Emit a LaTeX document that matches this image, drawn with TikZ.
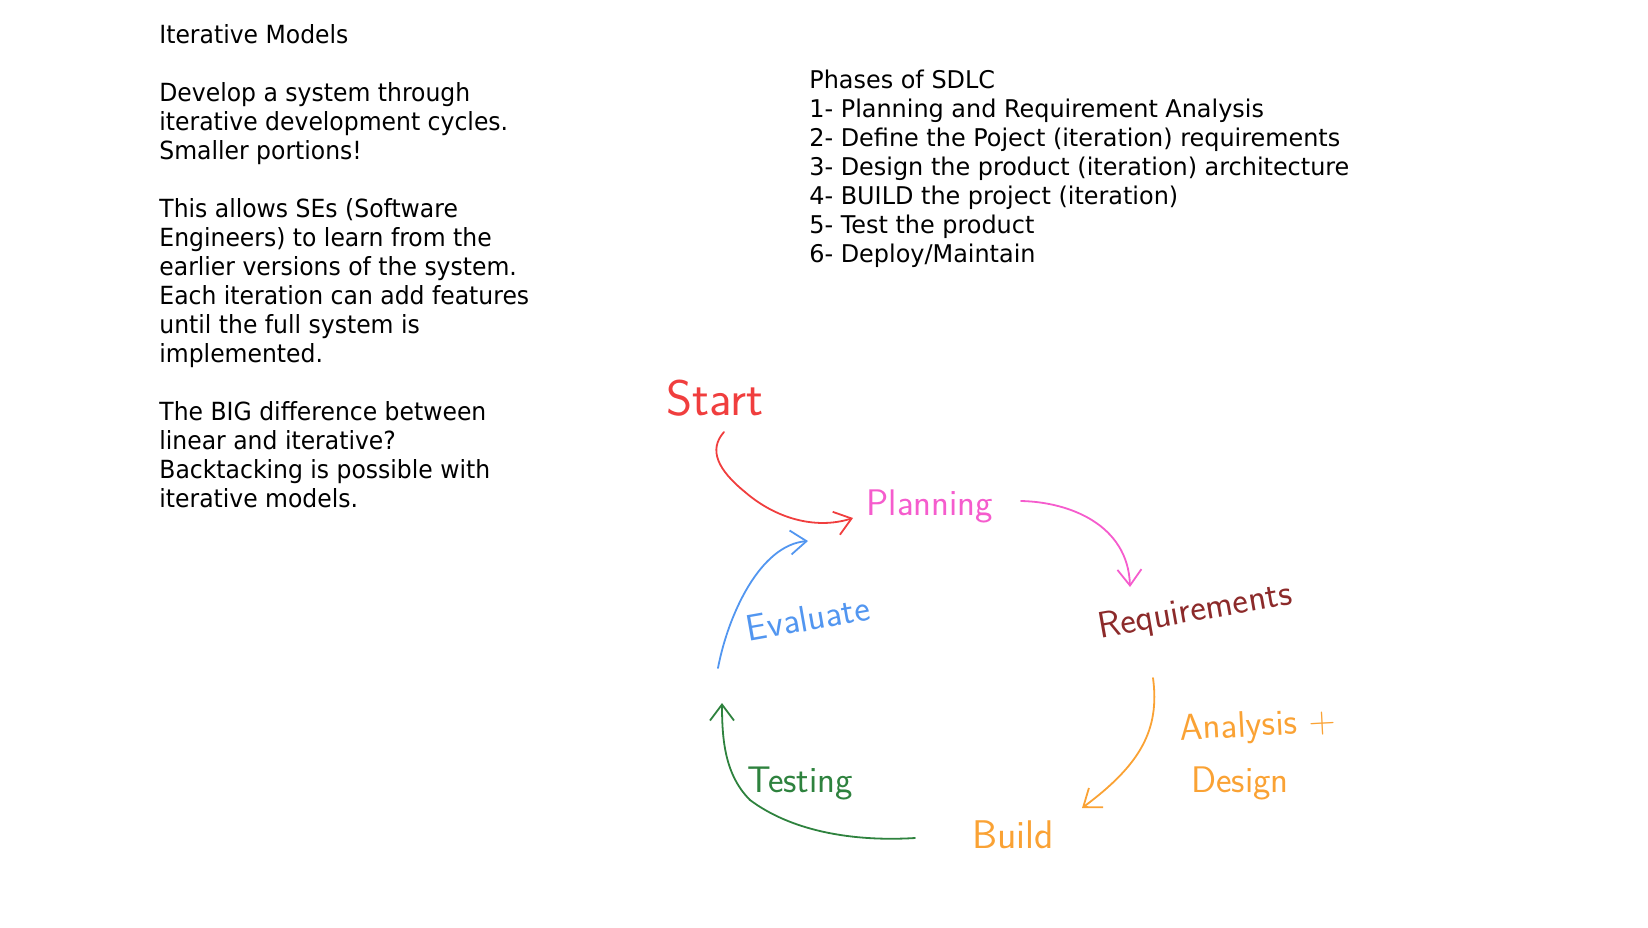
\documentclass[tikz,border=0pt]{standalone}
\usepackage{fontspec}
\setmainfont{DejaVu Sans}
\newfontfamily\notefont[FakeStretch=0.94]{DejaVu Sans}
\newfontfamily\phasefont[FakeStretch=0.98]{DejaVu Sans}
\usetikzlibrary{arrows.meta}

\definecolor{penred}{RGB}{240,62,62}
\definecolor{penpink}{RGB}{245,92,205}
\definecolor{penbrown}{RGB}{140,42,42}
\definecolor{penorange}{RGB}{250,162,52}
\definecolor{pengreen}{RGB}{46,130,62}
\definecolor{penblue}{RGB}{82,150,240}

\tikzset{
  notes/.style={anchor=base west, align=left, inner sep=0pt, font=\notefont\fontsize{12.5}{14.5}\selectfont},
  phases/.style={anchor=base west, align=left, inner sep=0pt, font=\phasefont\fontsize{12.2}{14.5}\selectfont},
  hand/.style={inner sep=0pt, font=\sffamily\fontsize{18.5}{20}\selectfont},
  pen/.style={line width=0.9pt, line cap=round, -{Straight Barb[length=8pt,width=12pt]}}
}

\begin{document}
\begin{tikzpicture}[x=0.5pt, y=-0.5pt]
    \useasboundingbox (0,0) rectangle (1648,927);

    % notes on the left (anchored at the last baseline)
    \node[notes] (notes) at (159,507) {Iterative Models\\[14.5pt]
      Develop a system through\\iterative development cycles.\\Smaller portions!\\[14.5pt]
      This allows SEs (Software\\Engineers) to learn from the\\earlier versions of the system.\\
      Each iteration can add features\\until the full system is\\implemented.\\[14.5pt]
      The BIG difference between\\linear and iterative?\\Backtacking is possible with\\iterative models.};

    % phases list
    \node[phases] (phases) at (809,262) {Phases of SDLC\\
      1- Planning and Requirement Analysis\\
      2- Define the Poject (iteration) requirements\\
      3- Design the product (iteration) architecture\\
      4- BUILD the project (iteration)\\
      5- Test the product\\
      6- Deploy/Maintain};

    % the cycle
    \node[hand, penred, font=\sffamily\fontsize{25}{26}\selectfont] (start) at (715,398) {Start};
    \node[hand, penpink] (plan) at (930,506) {Planning};
    \node[hand, penbrown, rotate=10] (req) at (1195,612) {Requirements};
    \node[hand, penorange, rotate=3] (ana) at (1258,727) {Analysis +};
    \node[hand, penorange] (des) at (1240,783) {Design};
    \node[hand, penorange, font=\sffamily\fontsize{20}{22}\selectfont] (build) at (1013,835) {Build};
    \node[hand, pengreen] (test) at (800,783) {Testing};
    \node[hand, penblue, rotate=10] (eval) at (808,618) {Evaluate};

    \coordinate (startout) at (724,432);
    \coordinate (planin) at (853,518);
    \coordinate (planout) at (1021,501);
    \coordinate (reqin) at (1130,587);
    \coordinate (reqout) at (1153,678);
    \coordinate (buildin) at (1082,808);
    \coordinate (buildout) at (915,838);
    \coordinate (testend) at (722,703);
    \coordinate (evalout) at (718,668);
    \coordinate (evalend) at (808,541);

    \draw[pen, penred] (startout) .. controls (708,450) and (718,470) .. (745,492)
      .. controls (775,518) and (815,530) .. (planin);
    \draw[pen, penpink] (planout) .. controls (1070,502) and (1128,525) .. (reqin);
    \draw[pen, penorange] (reqout) .. controls (1160,730) and (1140,765) .. (buildin);
    \draw[pen, pengreen] (buildout) .. controls (850,842) and (790,830) .. (750,800)
      .. controls (725,775) and (722,740) .. (testend);
    \draw[pen, penblue] (evalout) .. controls (728,615) and (760,545) .. (evalend);
\end{tikzpicture}
\end{document}
